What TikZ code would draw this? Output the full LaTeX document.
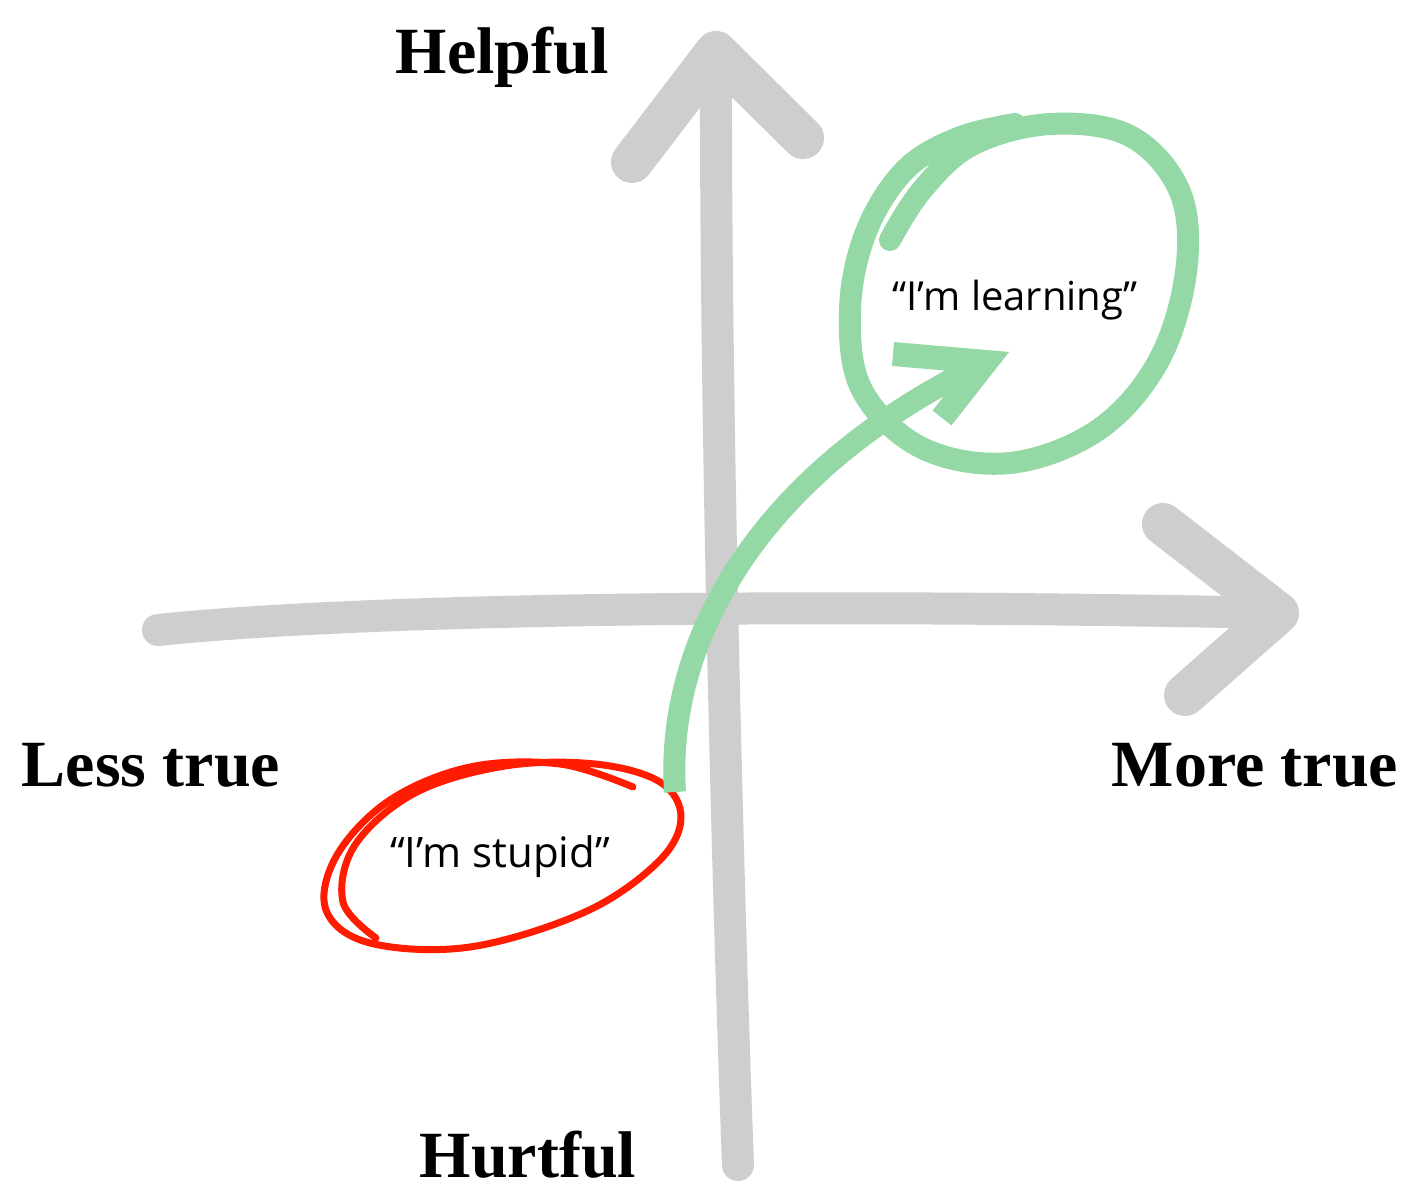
\documentclass[tikz,border=0pt]{standalone}
\usepackage{fontspec}
\setmainfont{Liberation Serif}
\newfontfamily\handfont{Open Sans}
\definecolor{axisgray}{RGB}{206,206,206}
\definecolor{greenm}{RGB}{148,216,166}
\definecolor{redm}{RGB}{255,28,0}
\begin{document}
\begin{tikzpicture}[x=0.5pt,y=-0.5pt,
  axisline/.style={draw=axisgray, line width=16pt, line cap=round, line join=round},
  axishead/.style={draw=axisgray, line width=21pt, line cap=round, line join=round},
  greenstroke/.style={draw=greenm, line width=11pt, line cap=butt, line join=round},
  redstroke/.style={draw=redm, line width=3.5pt, line cap=round, line join=round},
  axislabel/.style={font=\fontsize{33}{36}\selectfont\bfseries, inner sep=0pt},
  handlabel/.style={font=\handfont\fontsize{20}{24}\selectfont, inner sep=0pt}]
\path[use as bounding box, fill=white] (0,0) rectangle (1426,1198);

% axes
\coordinate (vbot) at (738,1165);
\coordinate (vtop) at (716,52);
\coordinate (hl) at (158,630);
\coordinate (hr) at (1278,613);
\coordinate (vaL) at (632,162);
\coordinate (vaR) at (803,138);
\coordinate (haU) at (1163,524);
\coordinate (haD) at (1185,695);

\draw[axisline] (vbot) .. controls (728,900) and (715,400) .. (vtop);
\draw[axishead] (vaL) -- (vtop) -- (vaR);
\draw[axisline] (hl) .. controls (400,605) and (900,605) .. (hr);
\draw[axishead] (haU) -- (hr) -- (haD);

% red ellipse
\draw[redstroke] plot[smooth, tension=0.6] coordinates {
 (633,787) (560,764) (470,767) (390,800) (337,855) (326,910) (370,943)
 (470,947) (585,912) (658,862) (681,818) (660,782) (595,764) (505,766)
 (415,793) (355,845) (343,902) (376,938)};

% green ellipse
\draw[greenstroke, line cap=round] plot[smooth, tension=0.6] coordinates {
 (890,240) (922,190) (972,145) (1050,124) (1130,136) (1180,192) (1186,272)
 (1158,362) (1098,430) (1010,463) (922,448) (862,390) (850,310) (866,232)
 (905,170) (958,138) (1015,124)};

% labels
\node[axislabel] (helpful) at (502,57) {Helpful};
\node[axislabel] (hurtful) at (528,1155) {Hurtful};
\node[axislabel] (less) at (151,765) {Less true};
\node[axislabel] (more) at (1255,765) {More true};
\node[handlabel] (learn) at (1015,300) {“I’m learning”};
\node[handlabel, font=\handfont\fontsize{21}{24}\selectfont] (stupid) at (500,857) {“I’m stupid”};

% green arrow from stupid to learning
\coordinate (gstart) at (675,792);
\coordinate (gtip) at (986,362);
\draw[greenstroke] (gstart) .. controls (665,640) and (760,470) .. (gtip);
\draw[greenstroke, line width=12pt, line join=miter] (893,354) -- (gtip) -- (942,418);
\end{tikzpicture}
\end{document}
